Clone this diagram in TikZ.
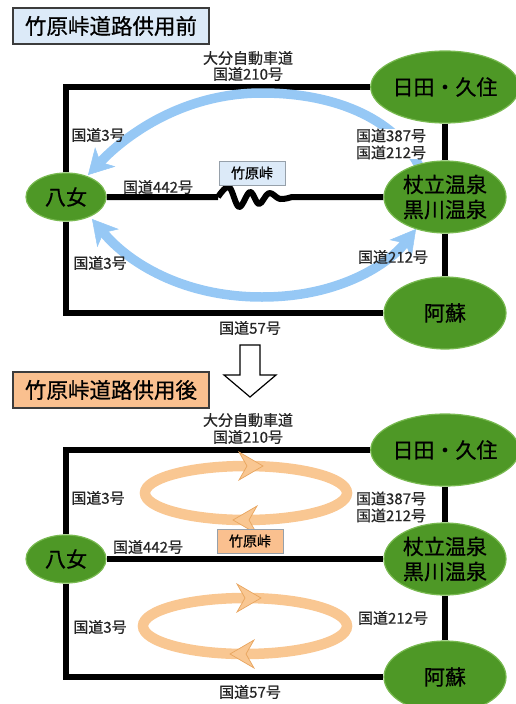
\documentclass[tikz,border=0pt]{standalone}
\usepackage{fontspec}
\setmainfont{Noto Sans CJK JP}
\newfontfamily\heavyjp[FakeBold=0.7]{Noto Sans CJK JP}
\usetikzlibrary{shapes.geometric,arrows.meta,backgrounds}
\definecolor{placegreen}{RGB}{78,152,38}
\definecolor{placeedge}{RGB}{120,185,80}
\definecolor{titleblue}{RGB}{220,234,248}
\definecolor{titleorange}{RGB}{250,192,143}
\definecolor{arrowblue}{RGB}{150,200,245}
\definecolor{loopfill}{RGB}{249,199,146}
\definecolor{loopedge}{RGB}{232,165,95}
\definecolor{boxedge}{RGB}{60,60,60}
\definecolor{passedge}{RGB}{150,160,170}
\begin{document}
\begin{tikzpicture}[x=1pt,y=-1pt,
  lbl/.style={font=\heavyjp\fontsize{15}{17}\selectfont, inner sep=1pt, text=black!85, align=center},
  place/.style={ellipse, draw=placeedge, line width=1.2pt, fill=placegreen, minimum width=122pt, minimum height=72pt, inner sep=0pt, font=\heavyjp\fontsize{21}{25}\selectfont, align=center, text=black},
  smallplace/.style={place, minimum width=80pt, minimum height=48pt},
  titlebox/.style={draw=boxedge, line width=1.5pt, minimum width=196pt, minimum height=36pt, inner sep=0pt, font=\heavyjp\fontsize{21.5}{24}\selectfont},
  passbox/.style={draw=passedge, line width=0.8pt, minimum width=66pt, minimum height=24pt, inner sep=0pt, font=\heavyjp\fontsize{14}{16}\selectfont},
  road/.style={line width=6pt, black},
  bluearrow/.style={line width=9.5pt, arrowblue},
  bluetip/.tip={Stealth[length=25pt,width=28pt,inset=7pt,line width=0.5pt]},
  loop/.style={line width=10.5pt, loopfill},
  loophead/.pic={\filldraw[fill=loopfill, draw=loopedge, line width=0.7pt] (0,0) -- (-24,-14) -- (-16,0) -- (-24,14) -- cycle;}
]
\useasboundingbox (0,0) rectangle (515,704);

%% ---------------- upper part ----------------
\node[titlebox, fill=titleblue] (t1) at (111,26) {竹原峠道路供用前};
\node[place] (hita1) at (445,87) {日田・久住};
\node[place] (tsue1) at (445,197) {杖立温泉\\黒川温泉};
\node[place] (aso1) at (445,313) {阿蘇};
\node[smallplace] (yame1) at (66,197) {八女};
\coordinate (c1) at (66,87);
\coordinate (c2) at (66,313);
\coordinate (w1a) at (218,197);
\coordinate (w1b) at (292,197);

\node[lbl] (l1a) at (248,58) {大分自動車道};
\node[lbl] (l1b) at (248,74) {国道210号};
\node[lbl] (l1c) at (98,135) {国道3号};
\node[lbl] (l1d) at (158,187) {国道442号};
\node[lbl] (l1e) at (100,263) {国道3号};
\node[lbl] (l1f) at (250,328) {国道57号};
\node[lbl, fill=white, inner sep=0pt] (l1g) at (391,144) {国道387号\\国道212号};
\node[lbl] (l1h) at (393,257) {国道212号};
\node[passbox, fill=titleblue] (p1) at (252,173) {竹原峠};

\coordinate (a1s) at (420,168);
\coordinate (a1e) at (88,175);
\coordinate (a2s) at (92,219);
\coordinate (a2e) at (416,229);

\begin{pgfonlayer}{background}
  \draw[road, line join=miter] (hita1) -- (c1) -- (yame1) -- (c2) -- (aso1);
  \draw[road] (hita1) -- (tsue1) -- (aso1);
  \draw[road, line join=round] (yame1) -- (w1a)
     plot[smooth, tension=0.6] coordinates {(218,197) (229,187) (239,207) (250,192) (259,204) (269,193) (280,199) (292,197)}
     -- (tsue1);
  \draw[bluearrow, -bluetip] (a1s) .. controls (398,122) and (340,93) .. (262,93)
       .. controls (185,93) and (128,133) .. (a1e);
  \draw[bluearrow, bluetip-bluetip] (a2s) .. controls (128,262) and (182,297) .. (262,297)
       .. controls (342,297) and (390,262) .. (a2e);
\end{pgfonlayer}

%% ---------------- down arrow ----------------
\filldraw[fill=white, draw=black, line width=1.2pt, line join=miter]
  (240,345) -- (260,345) -- (260,375) -- (276,375) -- (250,397) -- (224,375) -- (240,375) -- cycle;

%% ---------------- lower part ----------------
\node[titlebox, fill=titleorange] (t2) at (111,390) {竹原峠道路供用後};
\node[place] (hita2) at (445,450) {日田・久住};
\node[place] (tsue2) at (445,559) {杖立温泉\\黒川温泉};
\node[place] (aso2) at (445,677) {阿蘇};
\node[smallplace] (yame2) at (66,559) {八女};
\coordinate (c3) at (66,450);
\coordinate (c4) at (66,677);

\node[lbl] (l2a) at (248,420) {大分自動車道};
\node[lbl] (l2b) at (248,437) {国道210号};
\node[lbl] (l2c) at (98,498) {国道3号};
\node[lbl] (l2d) at (148,547) {国道442号};
\node[lbl] (l2e) at (100,627) {国道3号};
\node[lbl] (l2f) at (250,692) {国道57号};
\node[lbl, fill=white, inner sep=0pt] (l2g) at (391,507) {国道387号\\国道212号};
\node[lbl] (l2h) at (393,618) {国道212号};

\begin{pgfonlayer}{background}
  \draw[road, line join=miter] (hita2) -- (c3) -- (yame2) -- (c4) -- (aso2);
  \draw[road] (hita2) -- (tsue2) -- (aso2);
  \draw[road] (yame2) -- (tsue2);
\end{pgfonlayer}

\draw[loop] (246,493) ellipse [x radius=101, y radius=27];
\draw[loop] (245,626) ellipse [x radius=102, y radius=28];
\pic at (263,466) {loophead};
\pic[rotate=180] at (233,520) {loophead};
\pic at (261,598) {loophead};
\pic[rotate=180] at (230,654) {loophead};

\node[passbox, fill=titleorange, draw=passedge] (p2) at (250,541) {竹原峠};
\end{tikzpicture}
\end{document}
